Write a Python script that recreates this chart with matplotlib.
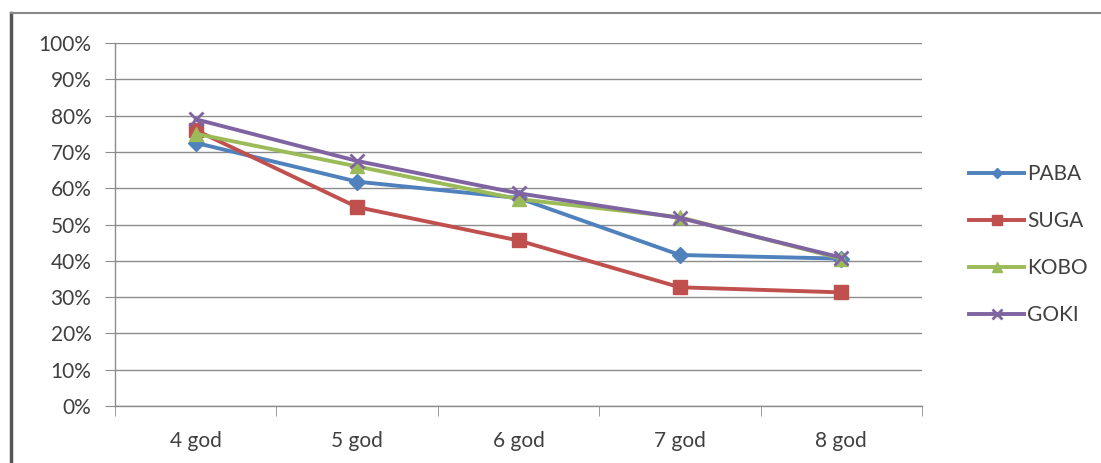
import matplotlib.pyplot as plt
from matplotlib.lines import Line2D
from matplotlib.ticker import FixedLocator, PercentFormatter

plt.rcParams['font.family'] = ['Lato', 'DejaVu Sans']

categories = ['4 god', '5 god', '6 god', '7 god', '8 god']
paba = [72.5, 61.8, 57.3, 41.6, 40.6]
suga = [76.0, 54.8, 45.6, 32.7, 31.3]
kobo = [75.0, 66.0, 57.0, 52.0, 40.6]
goki = [79.0, 67.5, 58.6, 51.8, 40.9]

series = [
    ('PABA', paba, '#4F81BD', 'D', 8),
    ('SUGA', suga, '#C0504D', 's', 10),
    ('KOBO', kobo, '#9BBB59', '^', 10),
    ('GOKI', goki, '#8064A2', 'x', 10),
]

fig = plt.figure(figsize=(11.01, 4.63), dpi=100)
ax = fig.add_axes([0.1045, 0.1231, 0.7329, 0.7840])

x = list(range(len(categories)))
for name, vals, col, mk, ms in series:
    ax.plot(x, vals, color=col, lw=2.8, marker=mk, ms=ms, mew=2 if mk == 'x' else 1,
            mec=col, mfc=col, label=name, zorder=3)

ax.set_xlim(-0.5, len(categories) - 0.5)
ax.set_ylim(0, 100)
ax.set_yticks(range(0, 101, 10))
ax.yaxis.set_major_formatter(PercentFormatter(decimals=0))
ax.grid(axis='y', color='#8c8c8c', lw=1)
ax.set_axisbelow(True)

# category labels at centres, tick marks on the boundaries
ax.set_xticks(x)
ax.set_xticklabels(categories)
ax.xaxis.set_minor_locator(FixedLocator([i - 0.5 for i in range(len(categories) + 1)]))
ax.tick_params(axis='x', which='major', length=0, pad=18, labelsize=15, labelcolor='#404040')
ax.tick_params(axis='x', which='minor', length=7, color='#8c8c8c')
ax.tick_params(axis='y', length=7, color='#8c8c8c', pad=10, labelsize=15, labelcolor='#404040')

for s in ['top', 'right']:
    ax.spines[s].set_visible(False)
for s in ['left', 'bottom']:
    ax.spines[s].set_color('#8c8c8c')
    ax.spines[s].set_linewidth(1)

ax.legend(loc='center left', bbox_to_anchor=(1.035, 0.445), frameon=False,
          fontsize=15, handlelength=2.65, handletextpad=0.15, labelspacing=1.3,
          markerscale=0.7, labelcolor='#404040')

# outer chart frame (top and left edges)
fig.add_artist(Line2D([0.0098, 0.0098], [0, 0.972], color='#555555', lw=2.5))
fig.add_artist(Line2D([0.0098, 1.0], [0.972, 0.972], color='#888888', lw=1.5))

fig.savefig('out.png', dpi=100)
